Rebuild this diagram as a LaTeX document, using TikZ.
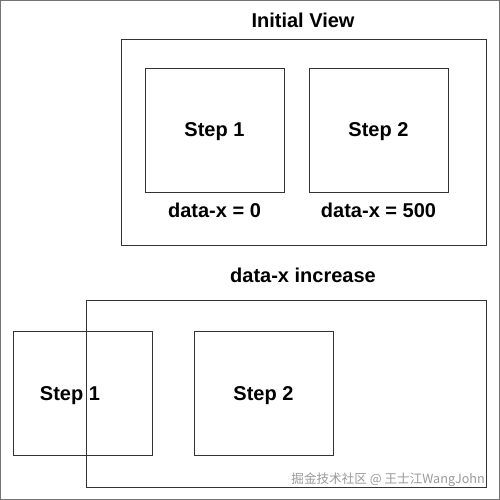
\documentclass[tikz,border=0pt]{standalone}
\usepackage{fontspec}
\setmainfont{Liberation Sans}
\newfontfamily\cjkmark{Noto Sans CJK SC}
\usetikzlibrary{positioning}

\tikzset{
  stepbox/.style={draw=black!80, line width=0.9pt, minimum width=139pt, minimum height=124pt, inner sep=0pt},
  frame/.style={draw=black!80, line width=0.9pt},
  caption/.style={anchor=base, inner sep=0pt, font=\fontsize{20}{23}\selectfont\bfseries}
}

\begin{document}
\begin{tikzpicture}[x=1pt, y=-1pt]
  \useasboundingbox (0,0) rectangle (500,500);
  \draw[black!55, line width=1.4pt] (0.7,0.7) rectangle (499.3,499.3);
  % initial view
  \node[caption] (inittitle) at (303,28) {Initial View};
  \draw[frame] (121,39) rectangle (486,245);
  \node[stepbox] (stepone) at (214.5,130) {};
  \node[stepbox] (steptwo) at (378.5,130) {};
  \node[caption] (steponetext) at (214.5,136.5) {Step 1};
  \node[caption] (steptwotext) at (378.5,136.5) {Step 2};
  \node[caption] (labelzero) at (214.5,217) {data-x = 0};
  \node[caption] (labelfive) at (378.5,217) {data-x = 500};
  % after data-x increase
  \node[caption] (incrtitle) at (303,282) {data-x increase};
  \draw[frame] (86,300) rectangle (486,487);
  \node[stepbox] (movedone) at (82.5,393) {};
  \node[stepbox] (movedtwo) at (263.5,393) {};
  \node[caption] (movedonetext) at (70,400) {Step 1};
  \node[caption] (movedtwotext) at (263.5,400) {Step 2};
  % watermark
  \node[anchor=base east, inner sep=0pt, text=black!40, font=\cjkmark\fontsize{12.6}{15}\selectfont] (mark) at (485,483) {掘金技术社区 @ 王士江WangJohn};
\end{tikzpicture}
\end{document}
